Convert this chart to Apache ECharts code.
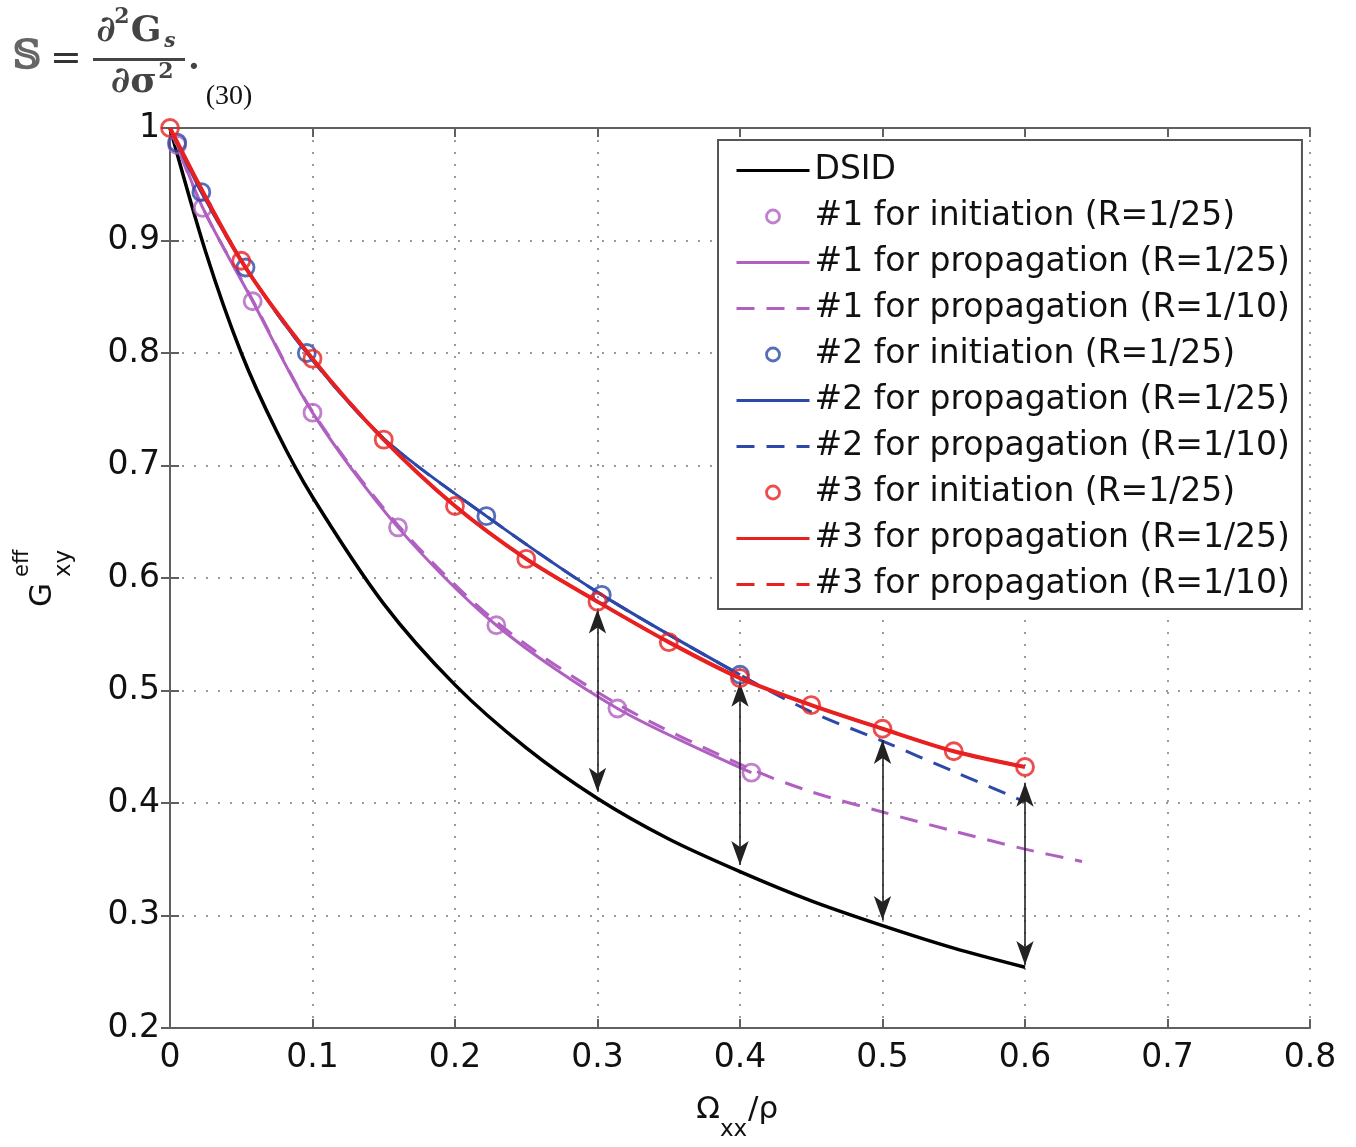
<!DOCTYPE html>
<html>
<head>
<meta charset="utf-8">
<script src="https://cdn.jsdelivr.net/npm/echarts@6/dist/echarts.min.js"></script>
<style>
html,body{margin:0;padding:0;background:#fff}
#main{width:1356px;height:1147px}
</style>
</head>
<body>
<div id="main"></div>
<script>
// tick labels
var xTickLabels=['0','0.1','0.2','0.3','0.4','0.5','0.6','0.7','0.8'];
var yTickLabels=['0.2','0.3','0.4','0.5','0.6','0.7','0.8','0.9','1'];

// DSID
var dsidX=[0,0.025,0.05,0.075,0.1,0.15,0.2,0.25,0.3,0.35,0.4,0.45,0.5,0.55,0.6];
var dsidY=[1.0,0.89,0.80,0.73,0.672,0.577,0.505,0.449,0.404,0.368,0.339,0.313,0.291,0.271,0.254];

// #1
var init1X=[0.005,0.023,0.058,0.1,0.16,0.229,0.314,0.408];
var init1Y=[0.985,0.929,0.846,0.747,0.645,0.558,0.484,0.427];
var prop1aX=[0,0.005,0.023,0.058,0.1,0.16,0.229,0.314,0.408];
var prop1aY=[1.0,0.985,0.929,0.846,0.747,0.645,0.558,0.484,0.427];
var prop1bX=[0,0.023,0.058,0.1,0.16,0.229,0.314,0.408,0.45,0.5,0.55,0.6,0.64];
var prop1bY=[1.0,0.929,0.847,0.748,0.647,0.561,0.488,0.43,0.41,0.392,0.375,0.359,0.348];

// #2
var init2X=[0.005,0.022,0.053,0.096,0.222,0.303,0.4];
var init2Y=[0.987,0.943,0.876,0.80,0.655,0.585,0.514];
var prop2aX=[0,0.005,0.022,0.053,0.096,0.15,0.222,0.303,0.4];
var prop2aY=[1.0,0.987,0.943,0.876,0.80,0.724,0.655,0.585,0.514];
var prop2bX=[0,0.022,0.053,0.096,0.15,0.222,0.303,0.4,0.45,0.5,0.55,0.6];
var prop2bY=[1.0,0.943,0.876,0.80,0.724,0.655,0.585,0.514,0.481,0.455,0.428,0.401];

// #3
var init3X=[0,0.05,0.1,0.15,0.2,0.25,0.3,0.35,0.4,0.45,0.5,0.55,0.6];
var init3Y=[1.0,0.882,0.795,0.723,0.664,0.617,0.579,0.543,0.511,0.487,0.466,0.446,0.432];
var prop3aY=[1.0,0.882,0.795,0.723,0.664,0.617,0.579,0.543,0.511,0.487,0.466,0.446,0.432];
var prop3bY=[1.0,0.882,0.795,0.723,0.664,0.617,0.579,0.543,0.511,0.487,0.466,0.446,0.432];

// double arrows
var arrowX=[0.3,0.4,0.5,0.6];
var arrowTop=[0.572,0.507,0.456,0.418];
var arrowBottom=[0.41,0.345,0.296,0.256];

var purple='#b060c0', blue='#2c48a8', red='#e82020';
var font='DejaVu Sans';

function pairs(xs,ys){
	var out=[];
	for(var i=0;i<xs.length;i++){ out.push([xs[i],ys[i]]); }
	return out;
}
function lineSeries(name,xs,ys,color,width,dashed,z){
	return {
		name:name, type:'line', data:pairs(xs,ys), symbol:'none', smooth:0.3,
		lineStyle:{color:color,width:width,type:dashed?[18,12]:'solid'},
		itemStyle:{color:color}, z:z, silent:true
	};
}
function circleSeries(name,xs,ys,color,z){
	return {
		name:name, type:'scatter', data:pairs(xs,ys), symbol:'circle', symbolSize:17,
		itemStyle:{color:'rgba(255,255,255,0)',borderColor:color,borderWidth:2.8}, z:z, silent:true
	};
}

var arrowLines=[];
for(var i=0;i<arrowX.length;i++){
	arrowLines.push([{coord:[arrowX[i],arrowTop[i]]},{coord:[arrowX[i],arrowBottom[i]]}]);
}

var names=['DSID','#1 for initiation (R=1/25)','#1 for propagation (R=1/25)','#1 for propagation (R=1/10)',
	'#2 for initiation (R=1/25)','#2 for propagation (R=1/25)','#2 for propagation (R=1/10)',
	'#3 for initiation (R=1/25)','#3 for propagation (R=1/25)','#3 for propagation (R=1/10)'];

// legend: the line entries show only the line, no dot
var legendData=names.map(function(n){
	if(n.indexOf('initiation')>=0){ return {name:n,itemStyle:{borderWidth:2.8}}; }
	return {name:n,itemStyle:{color:'rgba(0,0,0,0)',borderWidth:0,opacity:0},lineStyle:{width:3}};
});

var series=[
	lineSeries(names[0],dsidX,dsidY,'#000',3.5,false,2),
	circleSeries(names[1],init1X,init1Y,purple,3),
	lineSeries(names[2],prop1aX,prop1aY,purple,3,false,3),
	lineSeries(names[3],prop1bX,prop1bY,purple,3,true,3),
	circleSeries(names[4],init2X,init2Y,blue,4),
	lineSeries(names[5],prop2aX,prop2aY,blue,3,false,4),
	lineSeries(names[6],prop2bX,prop2bY,blue,3,true,4),
	lineSeries(names[9],init3X,prop3bY,red,3,true,5),
	circleSeries(names[7],init3X,init3Y,red,5),
	lineSeries(names[8],init3X,prop3aY,red,4,false,5),
	{
		name:'arrows', type:'line', data:[], z:8, silent:true,
		markLine:{
			silent:true, symbol:['arrow','arrow'], symbolSize:[13,24],
			label:{show:false},
			lineStyle:{color:'#222',width:1.6,type:'solid'},
			data:arrowLines
		}
	}
];

var axisColor='#606060';
var option={
	animation:false,
	backgroundColor:'#fff',
	grid:{left:170,right:46,top:128,bottom:119},
	xAxis:[{
		type:'value', min:0, max:0.8, interval:0.1,
		axisLine:{lineStyle:{color:axisColor,width:2}},
		axisTick:{inside:true,length:9,lineStyle:{color:axisColor,width:2}},
		axisLabel:{margin:14,color:'#111',fontFamily:font,fontSize:33,
			formatter:function(v){ return xTickLabels[Math.round(v*10)]; }},
		splitLine:{show:true,lineStyle:{color:'#9a9a9a',width:2,type:[2,10]}}
	},{
		type:'value', position:'top', min:0, max:0.8, interval:0.1,
		axisLine:{lineStyle:{color:axisColor,width:2}},
		axisTick:{inside:true,length:9,lineStyle:{color:axisColor,width:2}},
		axisLabel:{show:false}, splitLine:{show:false}
	}],
	yAxis:[{
		type:'value', min:0.2, max:1, interval:0.1,
		axisLine:{show:true,lineStyle:{color:axisColor,width:2}},
		axisTick:{show:true,inside:true,length:9,lineStyle:{color:axisColor,width:2}},
		axisLabel:{margin:10,color:'#111',fontFamily:font,fontSize:33,
			formatter:function(v){ return yTickLabels[Math.round((v-0.2)*10)]; }},
		splitLine:{show:true,lineStyle:{color:'#9a9a9a',width:2,type:[2,10]}}
	},{
		type:'value', position:'right', min:0.2, max:1, interval:0.1,
		axisLine:{show:true,lineStyle:{color:axisColor,width:2}},
		axisTick:{show:true,inside:true,length:9,lineStyle:{color:axisColor,width:2}},
		axisLabel:{show:false}, splitLine:{show:false}
	}],
	legend:{
		data:legendData, orient:'vertical', left:718, top:140, selectedMode:false,
		padding:[14,12,8,17], itemGap:13, itemWidth:73, itemHeight:13,
		backgroundColor:'#fff', borderColor:'#555', borderWidth:2,
		textStyle:{fontFamily:font,fontSize:33,color:'#111',lineHeight:32}
	},
	graphic:[
		// formula at the top
		{type:'text',x:27,y:58,style:{text:'𝕊',font:'bold 40px "DejaVu Serif"',fill:'#666',align:'center',verticalAlign:'middle'}},
		{type:'text',x:66,y:60,style:{text:'=',font:'38px "DejaVu Serif"',fill:'#333',align:'center',verticalAlign:'middle'}},
		{type:'text',x:106,y:32,style:{text:'∂',font:'bold 36px "DejaVu Serif"',fill:'#444',align:'center',verticalAlign:'middle'}},
		{type:'text',x:122,y:17,style:{text:'2',font:'bold 22px "DejaVu Serif"',fill:'#444',align:'center',verticalAlign:'middle'}},
		{type:'text',x:146,y:32,style:{text:'G',font:'bold 36px "DejaVu Serif"',fill:'#444',align:'center',verticalAlign:'middle'}},
		{type:'text',x:170,y:42,style:{text:'s',font:'italic bold 20px "DejaVu Serif"',fill:'#444',align:'center',verticalAlign:'middle'}},
		{type:'rect',shape:{x:93,y:58,width:92,height:3},style:{fill:'#444'}},
		{type:'text',x:134,y:83,style:{text:'∂σ',font:'bold 36px "DejaVu Serif"',fill:'#444',align:'center',verticalAlign:'middle'}},
		{type:'text',x:166,y:72,style:{text:'2',font:'bold 22px "DejaVu Serif"',fill:'#444',align:'center',verticalAlign:'middle'}},
		{type:'text',x:194,y:60,style:{text:'.',font:'bold 34px "DejaVu Serif"',fill:'#444',align:'center',verticalAlign:'middle'}},
		{type:'text',x:229,y:97,style:{text:'(30)',font:'28px "Liberation Serif"',fill:'#111',align:'center',verticalAlign:'middle'}},
		// y axis name
		{type:'group',x:43,y:595,rotation:Math.PI/2,children:[
			{type:'text',x:0,y:0,style:{text:'G',font:'31px "DejaVu Sans"',fill:'#111',align:'center',verticalAlign:'middle'}},
			{type:'text',x:18,y:-20,style:{text:'eff',font:'21px "DejaVu Sans"',fill:'#111',align:'left',verticalAlign:'middle'}},
			{type:'text',x:18,y:21,style:{text:'xy',font:'23px "DejaVu Sans"',fill:'#111',align:'left',verticalAlign:'middle'}}
		]},
		// x axis name
		{type:'text',x:720,y:1110,style:{text:'Ω',font:'31px "DejaVu Sans"',fill:'#111',align:'right',verticalAlign:'middle'}},
		{type:'text',x:720,y:1130,style:{text:'xx',font:'23px "DejaVu Sans"',fill:'#111',align:'left',verticalAlign:'middle'}},
		{type:'text',x:748,y:1110,style:{text:'/ρ',font:'31px "DejaVu Sans"',fill:'#111',align:'left',verticalAlign:'middle'}}
	],
	series:series
};

var myChart=echarts.init(document.getElementById('main'));
myChart.setOption(option);
</script>
</body>
</html>
